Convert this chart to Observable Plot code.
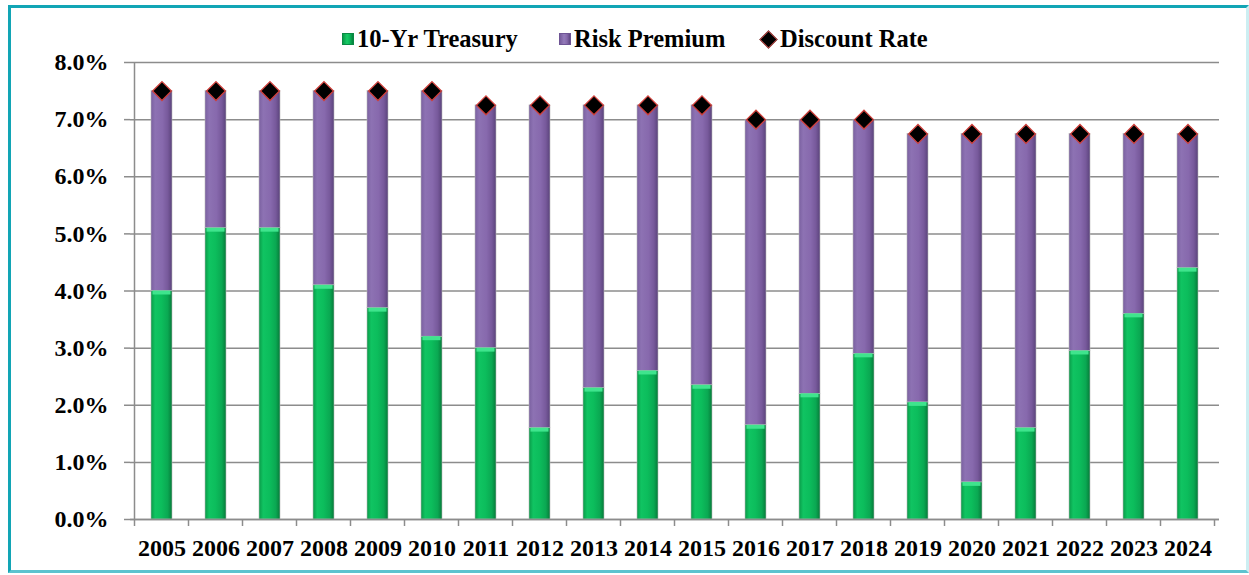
<!DOCTYPE html>
<html>
<head>
<meta charset="utf-8">
<script src="https://cdn.jsdelivr.net/npm/d3@7"></script>
<script src="https://cdn.jsdelivr.net/npm/@observablehq/plot@0.6"></script>
<style>
  html, body { margin: 0; padding: 0; background: #fff; }
  #wrap { position: relative; width: 1249px; height: 575px; overflow: hidden; font-family: "Liberation Serif", "Times New Roman", serif; }
  #frame { position: absolute; left: 8px; top: 5px; width: 1241px; height: 568px; box-sizing: border-box;
           border: 3px solid #12a5b5; border-right-color: #cdeef2; border-bottom-color: #5cc3cf; }
  #legend { position: relative; height: 40px; }
  .item { position: absolute; top: 25px; display: flex; align-items: center; font-weight: bold; font-size: 24.5px; color: #000; line-height: 28px; }
  .sw { width: 12px; height: 12px; margin-right: 3px; box-sizing: border-box; }
  .dia { width: 11px; height: 11px; margin: 0 5px 0 3px; background: #000; border: 1.5px solid #c0504d; transform: rotate(45deg); }
  #chart { position: relative; }
</style>
</head>
<body>
<div id="wrap">
  <div id="frame"></div>
  <div id="legend"></div>
  <div id="chart"></div>
</div>
<script>
const years = ["2005","2006","2007","2008","2009","2010","2011","2012","2013","2014","2015","2016","2017","2018","2019","2020","2021","2022","2023","2024"];
const treasury = [4.0, 5.1, 5.1, 4.1, 3.7, 3.2, 3.0, 1.6, 2.3, 2.6, 2.35, 1.65, 2.2, 2.9, 2.05, 0.65, 1.6, 2.95, 3.6, 4.4];
const riskPremium = [3.5, 2.4, 2.4, 3.4, 3.8, 4.3, 4.25, 5.65, 4.95, 4.65, 4.9, 5.35, 4.8, 4.1, 4.7, 6.1, 5.15, 3.8, 3.15, 2.35];
const discountRate = [7.5, 7.5, 7.5, 7.5, 7.5, 7.5, 7.25, 7.25, 7.25, 7.25, 7.25, 7.0, 7.0, 7.0, 6.75, 6.75, 6.75, 6.75, 6.75, 6.75];
const seriesNames = ["10-Yr Treasury", "Risk Premium", "Discount Rate"];
const yTicks = [0, 1, 2, 3, 4, 5, 6, 7, 8];

const stacked = [];
years.forEach((y, i) => {
  stacked.push({year: y, series: seriesNames[0], value: treasury[i]});
  stacked.push({year: y, series: seriesNames[1], value: riskPremium[i]});
});
const tops = years.map((y, i) => ({year: y, value: treasury[i]}));
const points = years.map((y, i) => ({year: y, value: discountRate[i]}));

// Legend
const legend = document.getElementById("legend");
const legendItems = [
  {name: seriesNames[0], left: 342, html: '<div class="sw" style="background:linear-gradient(90deg,#0a9a48,#17cc66 40%,#0bb457 70%,#07803d);border:1px solid #0a8a44"></div>'},
  {name: seriesNames[1], left: 559, html: '<div class="sw" style="background:linear-gradient(90deg,#765c9c,#947bba 40%,#8669ab 70%,#5f4782);border:1px solid #6f5595"></div>'},
  {name: seriesNames[2], left: 759, html: '<div class="dia"></div>'}
];
legendItems.forEach(it => {
  const d = document.createElement("div");
  d.className = "item";
  d.style.left = it.left + "px";
  d.innerHTML = it.html + "<span>" + it.name + "</span>";
  legend.appendChild(d);
});

const plot = Plot.plot({
  width: 1249,
  height: 535,
  marginTop: 22,
  marginBottom: 56,
  marginLeft: 130,
  marginRight: 30,
  style: {fontFamily: "'Liberation Serif', 'Times New Roman', serif", fontWeight: "bold", fontSize: "24px", color: "#000", background: "transparent", overflow: "visible"},
  x: {domain: years, paddingInner: 0.61, paddingOuter: 0.305, align: 0.5, label: null},
  y: {domain: [0, 8], label: null},
  color: {domain: seriesNames.slice(0, 2), range: ["url(#gGreen)", "url(#gPurple)"]},
  marks: [
    Plot.gridY(yTicks, {stroke: "#8c8c8c", strokeOpacity: 1, strokeWidth: 1.5}),
    Plot.barY(stacked, {x: "year", y: "value", fill: "series", stroke: "#b9b9b9", strokeWidth: 0.6, order: seriesNames.slice(0, 2)}),
    Plot.barY(tops, {x: "year", y1: "value", y2: "value", insetBottom: -4, insetLeft: 1.5, insetRight: 1.5, fill: "#3fe48d"}),
    Plot.ruleY([0], {stroke: "#8c8c8c", strokeWidth: 1.5}),
    Plot.axisY(yTicks, {tickSize: 6, tickPadding: 16, tickFormat: d => d.toFixed(1) + "%", stroke: "#8c8c8c", strokeWidth: 1.5, fontSize: 24, fontWeight: "bold"}),
    Plot.axisX({tickSize: 0, tickPadding: 19, fontSize: 24, fontWeight: "bold"}),
    Plot.dot(points, {x: "year", y: "value", symbol: "diamond2", r: 8.5, fill: "#000", stroke: "#d0413c", strokeWidth: 1.3})
  ]
});

// gradients
const svg = d3.select(plot);
const defs = svg.insert("defs", ":first-child");
function grad(id, stops) {
  const g = defs.append("linearGradient").attr("id", id).attr("x1", 0).attr("x2", 1).attr("y1", 0).attr("y2", 0);
  stops.forEach(([o, c]) => g.append("stop").attr("offset", o).attr("stop-color", c));
}
grad("gGreen", [[0, "#0a9a48"], [0.2, "#10c462"], [0.5, "#0cbd5c"], [0.8, "#0aa852"], [1, "#067a39"]]);
grad("gPurple", [[0, "#7a60a0"], [0.2, "#8d72b3"], [0.55, "#8769ad"], [0.8, "#77599b"], [1, "#5a437b"]]);

// y-axis line at left edge and category-boundary ticks below x axis, positioned from the library scales
const xs = plot.scale("x");
const ys = plot.scale("y");
const step = xs.step, bw = xs.bandwidth;
const y0 = ys.apply(0);
const g = svg.append("g").attr("stroke", "#8c8c8c").attr("stroke-width", 1.5);
const leftEdge = xs.apply(years[0]) + bw / 2 - step / 2;
g.append("line").attr("x1", leftEdge).attr("x2", leftEdge).attr("y1", ys.apply(8)).attr("y2", y0);
years.forEach((yr, i) => {
  const b = xs.apply(yr) + bw / 2 - step / 2;
  g.append("line").attr("x1", b).attr("x2", b).attr("y1", y0).attr("y2", y0 + 7);
  if (i === years.length - 1) {
    const e = b + step;
    g.append("line").attr("x1", e).attr("x2", e).attr("y1", y0).attr("y2", y0 + 7);
  }
});
// bring diamonds on top
svg.select("g[aria-label='dot']").raise();

document.getElementById("chart").appendChild(plot);
</script>
</body>
</html>
